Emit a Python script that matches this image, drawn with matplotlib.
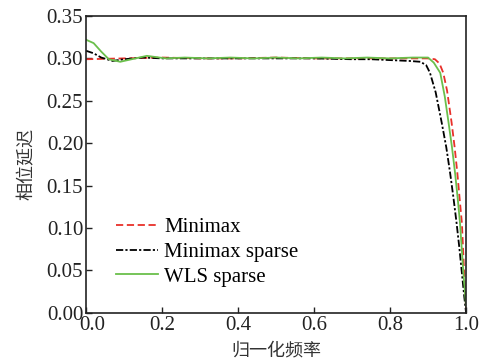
import matplotlib
matplotlib.use("Agg")
import matplotlib.pyplot as plt
import matplotlib.transforms as mtransforms

plt.rcParams['font.family'] = ['Liberation Serif', 'Noto Sans CJK SC']

# Minimax
x_mm = [0, 0.1, 0.2, 0.3, 0.4, 0.5, 0.6, 0.7, 0.8, 0.9, 0.918, 0.93, 0.94,
        0.95, 0.962, 0.97, 0.977, 0.984, 0.989, 0.995, 1.0]
y_mm = [0.299, 0.300, 0.301, 0.300, 0.300, 0.301, 0.300, 0.300, 0.300, 0.300,
        0.299, 0.294, 0.283, 0.262, 0.224, 0.195, 0.165, 0.130, 0.106, 0.047, 0.005]

# Minimax sparse
x_ms = [0, 0.02, 0.04, 0.07, 0.1, 0.15, 0.2, 0.3, 0.4, 0.5, 0.6, 0.7, 0.75, 0.8,
        0.85, 0.88, 0.895, 0.905, 0.92, 0.936, 0.948, 0.958, 0.967, 0.975, 0.982,
        0.989, 0.995, 1.0]
y_ms = [0.309, 0.306, 0.301, 0.297, 0.299, 0.301, 0.300, 0.300, 0.300, 0.300,
        0.300, 0.299, 0.299, 0.298, 0.297, 0.296, 0.292, 0.283, 0.260, 0.224,
        0.195, 0.165, 0.135, 0.106, 0.078, 0.047, 0.020, 0.0]

# WLS sparse
x_wls = [0, 0.02, 0.04, 0.06, 0.09, 0.12, 0.16, 0.21, 0.26, 0.32, 0.38, 0.44, 0.5,
         0.56, 0.62, 0.68, 0.74, 0.8, 0.86, 0.9, 0.915, 0.932, 0.944, 0.954, 0.963,
         0.971, 0.978, 0.984, 0.993, 1.0]
y_wls = [0.322, 0.318, 0.308, 0.299, 0.296, 0.299, 0.303, 0.300, 0.301, 0.300,
         0.301, 0.300, 0.301, 0.300, 0.301, 0.300, 0.301, 0.300, 0.301, 0.301,
         0.295, 0.283, 0.255, 0.224, 0.195, 0.165, 0.135, 0.106, 0.047, 0.008]

xticks = [0.0, 0.2, 0.4, 0.6, 0.8, 1.0]
yticks = [0.00, 0.05, 0.10, 0.15, 0.20, 0.25, 0.30, 0.35]

fig = plt.figure(figsize=(4.86, 3.63), dpi=100)
ax = fig.add_axes([0.177, 0.138, 0.782, 0.818])

ax.plot(x_mm, y_mm, color='#e8302a', lw=1.3, ls=(0, (4, 2)), label='Minimax')
ax.plot(x_ms, y_ms, color='black', lw=1.3, ls=(0, (4, 1.2, 1.2, 1.2)), label='Minimax sparse')
ax.plot(x_wls, y_wls, color='#6abf4b', lw=1.3, label='WLS sparse')

ax.set_xlim(0, 1.0)
ax.set_ylim(0, 0.35)
ax.set_xticks(xticks)
ax.set_xticklabels(['%.1f' % v for v in xticks])
ax.set_yticks(yticks)
ax.set_yticklabels(['%.2f' % v for v in yticks])
ax.tick_params(direction='in', labelsize=15, length=4, width=1, colors='#222222', pad=2)
for s in ax.spines.values():
    s.set_linewidth(1.2)
    s.set_color('#222222')

# shift the first x label a little right, like the original
lab0 = ax.get_xticklabels()[0]
lab0.set_transform(lab0.get_transform() + mtransforms.ScaledTranslation(0.06, 0, fig.dpi_scale_trans))

ax.set_xlabel('归一化频率', fontsize=13, family=['Noto Sans CJK SC'], labelpad=5, color='#333333')
ax.set_ylabel('相位延迟', fontsize=13, family=['Noto Sans CJK SC'], labelpad=8, color='#333333')

ax.legend(loc='lower left', bbox_to_anchor=(0.03, 0.025), frameon=False, fontsize=15,
          handlelength=2.0, handletextpad=0.3, labelspacing=0.25)

fig.savefig('out.png', dpi=100)
